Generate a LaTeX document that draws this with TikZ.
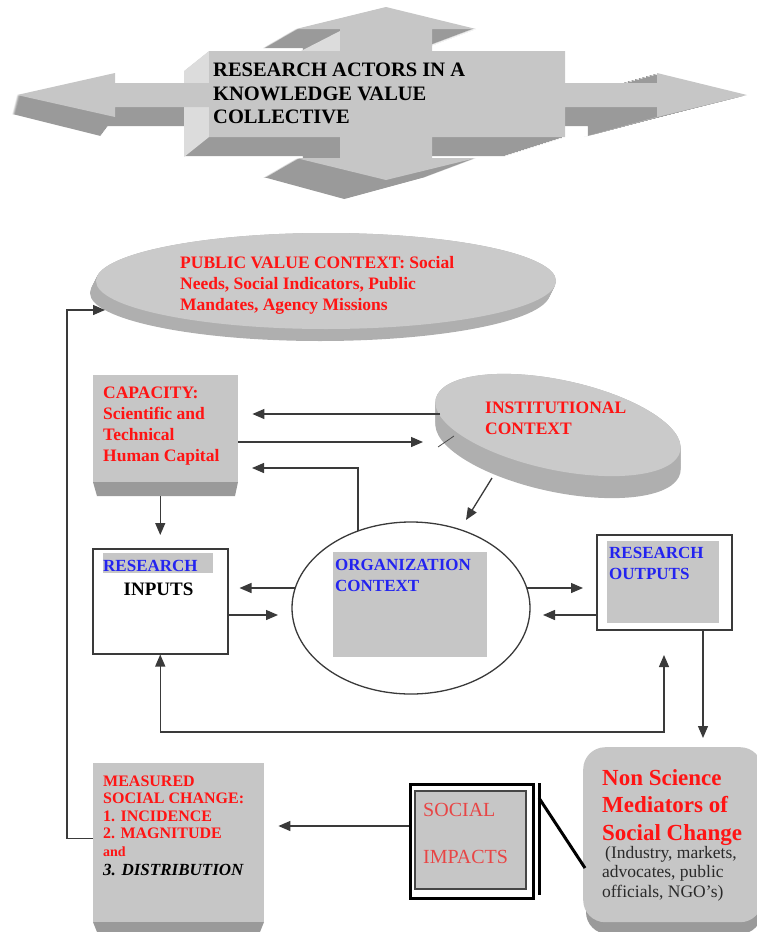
\documentclass[tikz,border=0pt]{standalone}
\usepackage{fontspec}
\setmainfont{Liberation Serif}
\usetikzlibrary{arrows.meta,shapes.geometric,calc}
\definecolor{boxgray}{HTML}{C6C6C6}
\definecolor{ellgray}{HTML}{CACACA}
\definecolor{darkface}{HTML}{9A9A9A}
\definecolor{lightface}{HTML}{DCDCDC}
\definecolor{rimgray}{HTML}{AFAFAF}
\definecolor{txtred}{HTML}{FF1414}
\definecolor{softred}{HTML}{E84545}
\definecolor{txtblue}{HTML}{2323F0}
\definecolor{linegray}{HTML}{3A3A3A}
\definecolor{subgray}{HTML}{2A2A2A}
\newcommand\bannershape{(386,7) -- (476,29) -- (432,29) -- (432,51) -- (565,51) -- (565,83) -- (657,83) -- (657,73) -- (747,95) -- (657,117) -- (657,107) -- (565,107) -- (565,137) -- (432,137) -- (432,158) -- (476,158) -- (386,180) -- (296,158) -- (340,158) -- (340,137) -- (209,137) -- (209,107) -- (115,107) -- (115,117) -- (17,95) -- (115,73) -- (115,83) -- (209,83) -- (209,51) -- (340,51) -- (340,29) -- (296,29) -- cycle}
\tikzset{
  arr/.style={draw=linegray, line width=1.3pt, -{Triangle[length=12pt,width=10pt]}},
  dbl/.style={draw=linegray, line width=1.3pt, {Triangle[length=12pt,width=10pt]}-{Triangle[length=12pt,width=10pt]}},
  lbl/.style={inner sep=0pt, anchor=north west, align=left},
  redlbl/.style={lbl, text=txtred, font=\bfseries\fontsize{17.5}{21}\selectfont},
  bluelbl/.style={lbl, text=txtblue, font=\bfseries\fontsize{17}{21}\selectfont},
  graybox/.style={fill=boxgray, inner sep=0pt, anchor=north west},
  whitebox/.style={draw=linegray, line width=1.5pt, fill=white, inner sep=0pt, anchor=north west},
}
\begin{document}
\begin{tikzpicture}[x=1pt,y=-1pt]
\useasboundingbox (0,0) rectangle (757,932);
% ---------- banner (3D double cross arrow)
\foreach \t in {0.05,0.1,...,1.0}{
  \fill[darkface, shift={(-3*\t,20*\t)}, xscale={1-0.106*\t}] \bannershape;
}
\fill[lightface] (209,51) -- (209,137) -- (184,157) -- (184,71) -- cycle;
\fill[lightface] (340,31) -- (340,51) -- (301,71) -- (301,51) -- cycle;
\fill[lightface] (747,95) -- (657,117) -- (584,137) -- (665,115) -- cycle;
\fill[boxgray] \bannershape;
\node[lbl, font=\bfseries\fontsize{20.5}{23.5}\selectfont] (title) at (213,63)
  {RESEARCH ACTORS IN A\\KNOWLEDGE VALUE\\COLLECTIVE};

% ---------- public value context
\foreach \t in {0,1,...,12}
  \fill[rimgray] ({326-0.5*\t},{281+\t}) ellipse [x radius=230pt, y radius=48pt];
\node[ellipse, fill=ellgray, minimum width=460pt, minimum height=96pt, inner sep=0pt] (pv) at (326,281) {};
\node[redlbl] (pvtext) at (180,256.5)
  {PUBLIC VALUE CONTEXT: Social\\Needs, Social Indicators, Public\\Mandates, Agency Missions};
\coordinate (pvin) at (105,310);

% ---------- capacity
\fill[darkface] (93,482) -- (238,482) -- (235,496) -- (97,496) -- cycle;
\node[graybox, minimum width=145pt, minimum height=107pt] (cap) at (93,375) {};
\node[redlbl] (captext) at (103,387)
  {CAPACITY:\\Scientific and\\Technical\\Human Capital};

% ---------- institutional context
\foreach \t in {0,2,...,22}
  \fill[rimgray, rotate around={-12:(558,425+\t)}] (558,425+\t) ellipse [x radius=125pt, y radius=45pt];
\node[ellipse, fill=ellgray, minimum width=250pt, minimum height=90pt, rotate=-12, inner sep=0pt] (inst) at (558,425) {};
\draw[line width=0.8pt, black!70] (438,447) -- (454,436);
\node[redlbl] (insttext) at (485,401.5) {INSTITUTIONAL\\CONTEXT};

% ---------- research inputs
\node[whitebox, minimum width=135pt, minimum height=105pt] (inp) at (92,548) {};
\fill[boxgray] (103,553) rectangle (213,573);
\node[bluelbl] (inptext) at (103,560.5) {RESEARCH};
\node[inner sep=0pt, anchor=base, font=\bfseries\fontsize{19}{21}\selectfont] (inptext2) at (158.5,595) {INPUTS};

% ---------- organization context
\node[ellipse, draw=linegray, line width=1.3pt, fill=white, minimum width=238pt, minimum height=172pt, inner sep=0pt] (org) at (411,608) {};
\fill[boxgray] (333,552) rectangle (487,657);
\node[bluelbl] (orgtext) at (335,558.7) {ORGANIZATION\\CONTEXT};

% ---------- research outputs
\node[whitebox, minimum width=135pt, minimum height=95pt] (out) at (596,534) {};
\fill[boxgray] (607,541) rectangle (719,623);
\node[bluelbl] (outtext) at (609,546.7) {RESEARCH\\OUTPUTS};

% ---------- measured social change
\fill[darkface] (93,922) -- (264,922) -- (260,932) -- (97,932) -- cycle;
\node[graybox, minimum width=171pt, minimum height=159pt] (meas) at (93,763) {};
\node[lbl, text=txtred, font=\bfseries\fontsize{16}{17.5}\selectfont] (meastext) at (103,775.4)
  {MEASURED\\SOCIAL CHANGE:\\1. INCIDENCE\\2. MAGNITUDE\\{\fontsize{14}{15}\selectfont and}};
\node[inner sep=0pt, anchor=base west, font=\bfseries\itshape\fontsize{17}{20}\selectfont] (measdist) at (103,875) {3. DISTRIBUTION};

% ---------- social impacts
\node[draw=black, line width=3pt, fill=white, minimum width=123pt, minimum height=114pt, inner sep=0pt, anchor=north west] (si) at (409,783) {};
\fill[boxgray, draw=gray!55!black, line width=1.2pt] (415,791) rectangle (526,889);
\node[lbl, text=softred, font=\fontsize{20}{21}\selectfont] (sitext) at (423,802.8) {SOCIAL\\[26pt]IMPACTS};

% ---------- non science mediators
\fill[darkface, rounded corners=22pt] (586,757) rectangle (762,934);
\node[fill=boxgray, rounded corners=22pt, minimum width=179pt, minimum height=175pt, inner sep=0pt, anchor=north west] (ns) at (583,747) {};
\node[lbl, text=txtred, font=\bfseries\fontsize{23}{27.5}\selectfont] (nstext) at (602,769.3)
  {Non Science\\Mediators of\\Social Change};
\node[lbl, text=subgray, font=\fontsize{17.5}{19.5}\selectfont] (nssub) at (602,846)
  {\hspace{3pt}(Industry, markets,\\advocates, public\\officials, NGO’s)};

% ---------- connector coordinates
\coordinate (instL1) at (440,414);
\coordinate (capTip) at ([xshift=14pt]cap.east);
\coordinate (instL2) at (423,442);
\coordinate (orgT) at ($(org.center)+(-53,-77)$);
\coordinate (capR3) at (252,468);
\coordinate (capb) at (165,496);
\coordinate (instB) at (492,478);
\coordinate (orgTR) at (466,520);
\coordinate (orgL1) at (295,588);
\coordinate (inpTip) at ([xshift=11pt]inp.east);
\coordinate (orgL2) at (278,615);
\coordinate (orgR1) at (527,588);
\coordinate (outTipL) at (583,588);
\coordinate (orgR2) at (543,615);
\coordinate (outD) at (703,629);
\coordinate (nsT) at (703,738);
\coordinate (loopR) at (664,732);
\coordinate (outB) at (664,655);
\coordinate (siL) at (409,826);
\coordinate (measTip) at ([xshift=14pt]meas.east);
\coordinate (barT) at (539,783);
\coordinate (barB) at (539,895);
\coordinate (barD) at (539,798);
\coordinate (nsL) at (585,868);

% ---------- connectors
\draw[arr] (instL1) -- (instL1 -| capTip);
\draw[arr] (instL2 -| cap.east) -- (instL2);
\draw[arr] (orgT) |- (capR3);
\draw[arr] (capb -| inp.north) -- ([yshift=13pt]inp.north);
\draw[arr] (instB) -- (orgTR);
\draw[arr] (orgL1) -- (orgL1 -| inpTip);
\draw[arr] (orgL2 -| inp.east) -- (orgL2);
\draw[arr] (orgR1) -- (outTipL);
\draw[arr] (orgR2 -| out.west) -- (orgR2);
\draw[arr] (outD) -- (nsT);
\draw[dbl] (inp.south) |- (loopR) -- (outB);
\draw[arr] (siL) -- (siL -| measTip);
\draw[arr] ([yshift=4pt]meas.west) -- ++(-26,0) |- (pvin);
\draw[line width=3pt, black] (barT) -- (barB);
\draw[line width=3pt, black] (barD) -- (nsL);
\end{tikzpicture}
\end{document}
